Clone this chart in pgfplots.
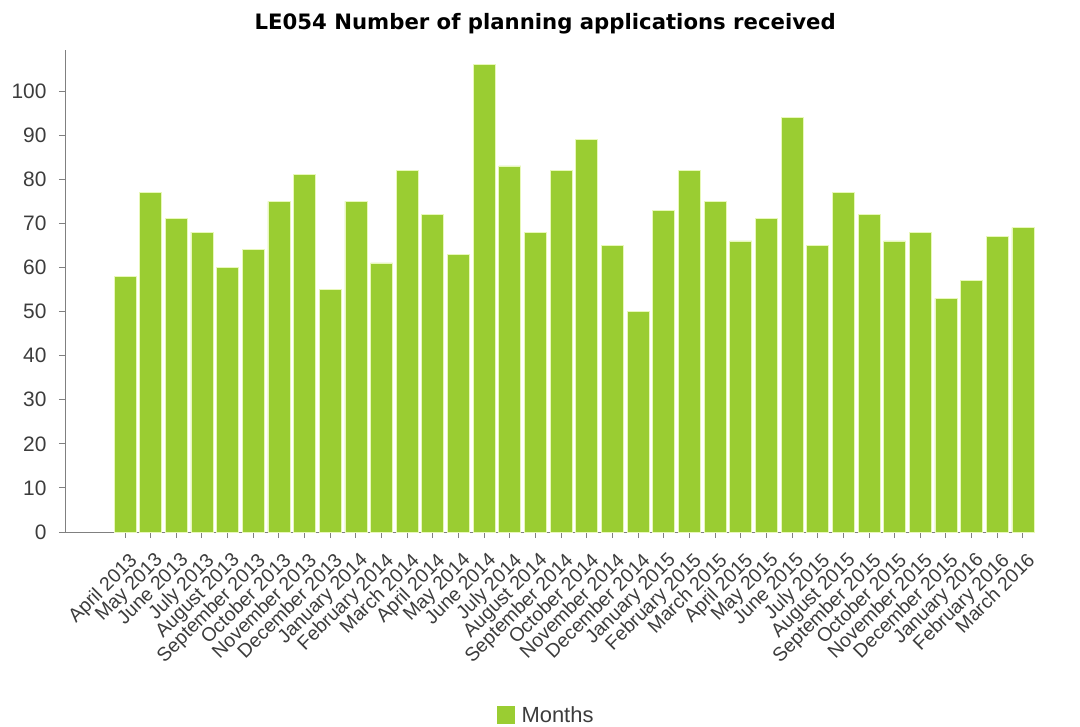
\documentclass[border=0pt]{standalone}
\usepackage{fontspec}
\setmainfont{Liberation Sans}
\newfontfamily\titlefont{DejaVu Sans}
\usepackage{pgfplots}
\pgfplotsset{compat=1.18}
\definecolor{bargreen}{RGB}{154,205,50}
\definecolor{baredge}{RGB}{232,248,185}
\definecolor{axgray}{RGB}{128,128,128}
\definecolor{txt}{RGB}{60,60,60}
\begin{document}
\begin{tikzpicture}
\begin{axis}[
  scale only axis, width=970bp, height=482bp,
  xmin=-2.34, xmax=35.47, ymin=0, ymax=109.3,
  axis x line=bottom, axis y line=left,
  axis line style={-, axgray, line width=1bp},
  ytick={0,10,...,100},
  xtick={0,...,35},
  xticklabels={April 2013,May 2013,June 2013,July 2013,August 2013,September 2013,October 2013,November 2013,December 2013,January 2014,February 2014,March 2014,April 2014,May 2014,June 2014,July 2014,August 2014,September 2014,October 2014,November 2014,December 2014,January 2015,February 2015,March 2015,April 2015,May 2015,June 2015,July 2015,August 2015,September 2015,October 2015,November 2015,December 2015,January 2016,February 2016,March 2016},
  tick align=outside, major tick length=6bp,
  tick style={axgray, line width=1bp},
  x tick label style={xshift=3bp, yshift=-12bp, rotate=45, anchor=north east, font=\fontsize{19.5}{19.5}\selectfont, text=txt, inner sep=1bp},
  y tick label style={font=\fontsize{21}{21}\selectfont, text=txt, xshift=-9bp},
  /pgf/number format/assume math mode=true,
  title={LE054 Number of planning applications received},
  title style={font=\titlefont\bfseries\fontsize{21.3}{24}\selectfont, at={(0.495,1)}, anchor=south, yshift=6bp},
  legend style={at={(0.496,-0.38)}, anchor=center, draw=none, font=\fontsize{22}{22}\selectfont, text=txt},
  ybar, bar width=22bp,
]
\addplot[fill=bargreen, draw=baredge, line width=0.8bp,
  legend image code/.code={\fill[bargreen] (0bp,-8bp) rectangle (17bp,9bp); \path (22bp,0bp);}] coordinates {
(0,58) (1,77) (2,71) (3,68) (4,60) (5,64) (6,75) (7,81) (8,55)
(9,75) (10,61) (11,82) (12,72) (13,63) (14,106) (15,83) (16,68) (17,82) (18,89) (19,65) (20,50)
(21,73) (22,82) (23,75) (24,66) (25,71) (26,94) (27,65) (28,77) (29,72) (30,66) (31,68) (32,53)
(33,57) (34,67) (35,69)};
\addlegendentry{Months}
\coordinate (BL) at (rel axis cs:0,0);
\coordinate (TR) at (rel axis cs:1,1);
\end{axis}
\pgfresetboundingbox
\path ([xshift=-65bp,yshift=-195bp]BL) rectangle ([xshift=45bp,yshift=50bp]TR);
\end{tikzpicture}
\end{document}
